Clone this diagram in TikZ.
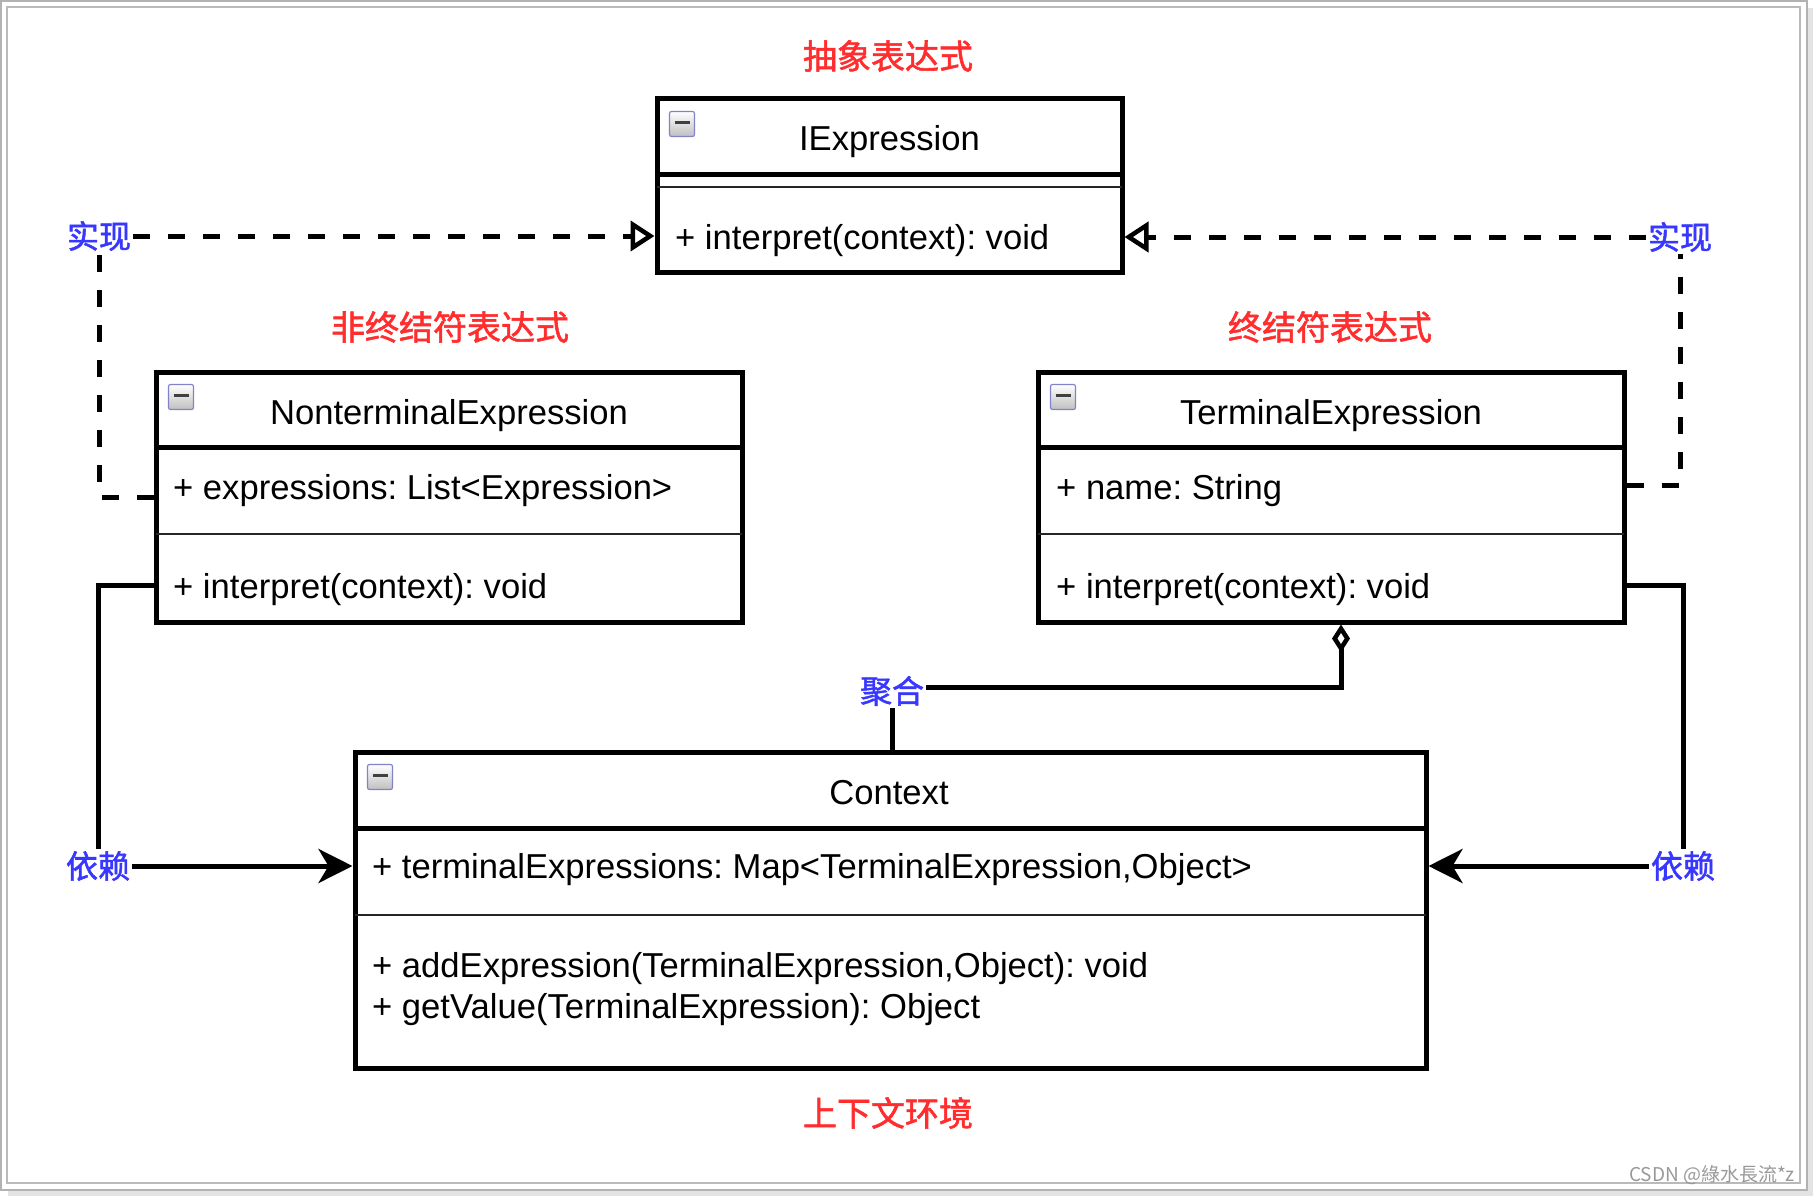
\documentclass[tikz,border=0pt]{standalone}
\usepackage{fontspec}
\setmainfont{Liberation Sans}
\newfontfamily\cjk{Noto Sans CJK SC}
\newfontfamily\cjkb[FakeBold=1.6]{Noto Sans CJK SC}
\usetikzlibrary{arrows.meta,calc}
\definecolor{lblred}{RGB}{255,45,45}
\definecolor{lblblue}{RGB}{55,55,255}
\definecolor{framegray}{RGB}{178,178,178}
\newcommand\mkicon[1]{%
  \shade[top color=white, bottom color=gray!50, draw=gray!60!blue!70, line width=1.2pt, rounded corners=2pt]
    ($(#1.north west)+(15,15)$) rectangle ++(25,25);
  \draw[line width=3pt, black!75] ($(#1.north west)+(20,26)$) -- ++(15,0);}
\frenchspacing
\begin{document}
\begin{tikzpicture}[x=1pt,y=-1pt,
  cls/.style={draw, line width=5pt, fill=white, inner sep=0pt},
  septhick/.style={line width=5pt},
  septhin/.style={line width=2pt, black!85},
  member/.style={anchor=base west, inner sep=0pt, font=\fontsize{34.6}{41}\selectfont},
  ctitle/.style={anchor=base, inner sep=0pt, font=\fontsize{34.6}{41}\selectfont},
  redlbl/.style={text=lblred, font=\cjkb\fontsize{34}{40}\selectfont, inner sep=0pt},
  bluelbl/.style={text=lblblue, font=\cjkb\fontsize{32}{38}\selectfont, inner sep=2pt},
  realize/.style={line width=5pt, dash pattern=on 17pt off 18pt},
  realtip/.style={realize, -{Triangle[open, length=24pt, width=30pt, line width=4.5pt]}},
  depline/.style={line width=5pt},
  deptip/.style={line width=5pt, -{Stealth[length=34pt, width=34pt, inset=10pt]}},
  aggtip/.style={line width=5pt, -{Diamond[open, length=28pt, width=18pt, line width=4.5pt]}}
]
\useasboundingbox (0,0) rectangle (1813,1196);
\fill[white] (0,0) rectangle (1813,1196);
% frame
\fill[gray!22] (1808,8) rectangle (1813,1196);
\fill[gray!22] (8,1191) rectangle (1813,1196);
\draw[framegray, line width=2pt] (1,1) rectangle (1807,1190);
\draw[framegray!90, line width=2pt] (7,7) rectangle (1800,1183);

% IExpression
\node[cls, minimum width=465pt, minimum height=173pt] (ie) at (889.5,185.5) {};
\draw[septhick] (657,175) -- (1122,175);
\draw[septhin] (657,187) -- (1122,187);
\mkicon{ie}
\node[ctitle] (ieT) at (889.5,151) {IExpression};
\node[member] (ieM) at (675,249) {+ interpret(context): void};

% NonterminalExpression
\node[cls, minimum width=586pt, minimum height=250pt] (nt) at (449,497) {};
\draw[septhick] (156,447) -- (742,447);
\draw[septhin] (156,534) -- (742,534);
\mkicon{nt}
\node[ctitle] (ntT) at (449,424) {NonterminalExpression};
\node[member] (ntA) at (173,499) {+ expressions: List<Expression>};
\node[member] (ntM) at (173,598) {+ interpret(context): void};

% TerminalExpression
\node[cls, minimum width=586pt, minimum height=250pt] (te) at (1331,497) {};
\draw[septhick] (1038,447) -- (1624,447);
\draw[septhin] (1038,534) -- (1624,534);
\mkicon{te}
\node[ctitle] (teT) at (1331,424) {TerminalExpression};
\node[member] (teA) at (1056,499) {+ name: String};
\node[member] (teM) at (1056,598) {+ interpret(context): void};

% Context
\node[cls, minimum width=1071pt, minimum height=316pt] (ctx) at (890.5,910) {};
\draw[septhick] (355,828) -- (1426,828);
\draw[septhin] (355,915) -- (1426,915);
\mkicon{ctx}
\node[ctitle] (ctxT) at (889,804) {Context};
\node[member] (ctxA) at (372,878) {+ terminalExpressions: Map<TerminalExpression,Object>};
\node[member] (ctxM1) at (372,977) {+ addExpression(TerminalExpression,Object): void};
\node[member] (ctxM2) at (372,1018) {+ getValue(TerminalExpression): Object};

% red titles
\node[redlbl] (t1) at (888,56) {抽象表达式};
\node[redlbl] (t2) at (450,327) {非终结符表达式};
\node[redlbl] (t3) at (1330,327) {终结符表达式};
\node[redlbl] (t4) at (888,1113) {上下文环境};

% blue labels
\node[bluelbl] (realL) at (99,236) {实现};
\node[bluelbl] (realR) at (1680,237) {实现};
\node[bluelbl] (depL) at (98,866) {依赖};
\node[bluelbl] (depR) at (1683,866) {依赖};
\node[bluelbl] (aggL) at (892,691) {聚合};

% realization
\draw[realize] (nt.west) -| (realL.south);
\draw[realtip] (realL.east) -- (realL.east -| ie.west);
\draw[realize] ([yshift=12pt]te.east) -| (realR.south);
\draw[realtip] (realR.west) -- (realR.west -| ie.east);

% dependency
\draw[depline] ([yshift=39pt]nt.south west) -| (depL.north);
\draw[deptip] (depL.east) -- (depL.east -| ctx.west);
\draw[depline] ([yshift=39pt]te.south east) -| (depR.north);
\draw[deptip] (depR.west) -- (depR.west -| ctx.east);

% aggregation
\draw[aggtip] ([yshift=4pt]aggL.east) -| ([xshift=10pt]te.south);
\draw[depline] (aggL.south) -- (aggL.south |- ctx.north);

% watermark
\node[text=gray!80, font=\cjk\fontsize{19}{22}\selectfont, inner sep=0pt] (wm) at (1712,1175) {CSDN @綠水長流*z};
\end{tikzpicture}
\end{document}
